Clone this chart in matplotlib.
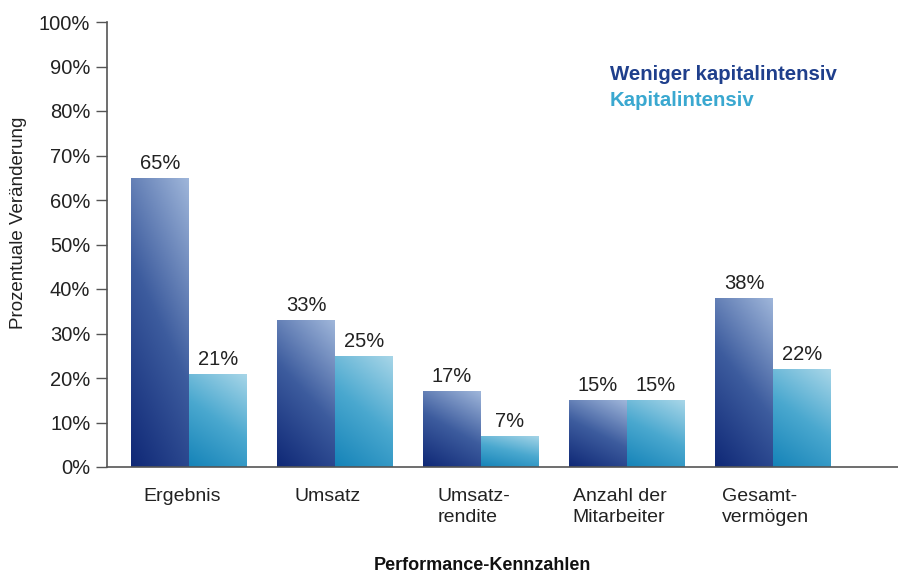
import numpy as np
import matplotlib
matplotlib.use('Agg')
import matplotlib.pyplot as plt
from matplotlib.colors import LinearSegmentedColormap

plt.rcParams['font.family'] = ['Liberation Sans', 'DejaVu Sans']

categories = ['Ergebnis', 'Umsatz', 'Umsatz-\nrendite', 'Anzahl der\nMitarbeiter', 'Gesamt-\nvermögen']
weniger = [65, 33, 17, 15, 38]
kapital = [21, 25, 7, 15, 22]
series_names = ['Weniger kapitalintensiv', 'Kapitalintensiv']

cmap_dark = LinearSegmentedColormap.from_list('dark', ['#0f2876', '#3d5c9e', '#9fb6da'])
cmap_light = LinearSegmentedColormap.from_list('light', ['#1583b8', '#4aa8cf', '#a8d6e8'])

fig = plt.figure(figsize=(8.98, 5.76), dpi=100)
ax = fig.add_axes([107 / 898, 1 - 467 / 576, 1 - 107 / 898, (467 - 22) / 576])

x = np.arange(len(categories))
w = 0.397

# diagonal gradient, dark at bottom-left, light at top-right
u, v = np.meshgrid(np.linspace(0, 1, 60), np.linspace(0, 1, 200))
grad = 0.3 * u + 0.7 * v


def gradient_bars(xs, heights, cmap):
    bars = ax.bar(xs, heights, w, color='none', edgecolor='none')
    for b in bars:
        x0, y0 = b.get_x(), b.get_y()
        im = ax.imshow(grad, cmap=cmap, origin='lower', aspect='auto',
                       extent=[x0, x0 + b.get_width(), y0, y0 + b.get_height()],
                       interpolation='bicubic', zorder=2)
        im.set_clip_path(b)
    return bars


b1 = gradient_bars(x - w / 2, weniger, cmap_dark)
b2 = gradient_bars(x + w / 2, kapital, cmap_light)

for bars, vals in [(b1, weniger), (b2, kapital)]:
    for b, val in zip(bars, vals):
        ax.annotate(f'{val}%', (b.get_x() + b.get_width() / 2, b.get_height()),
                    xytext=(0, 3.5), textcoords='offset points',
                    ha='center', va='bottom', fontsize=14.5, color='#222222')

ax.set_xlim((107 - 189) / 146, (898 - 189) / 146)
ax.set_ylim(0, 100)
ax.set_yticks(range(0, 101, 10))
ax.set_yticklabels([f'{t}%' for t in range(0, 101, 10)], fontsize=14.5, color='#222222')
ax.tick_params(axis='y', direction='out', length=8, width=1, color='#555555', pad=4)
ax.set_xticks(x - 0.05)
ax.set_xticklabels(categories, fontsize=14, color='#222222', linespacing=1.3,
                   multialignment='left')
ax.tick_params(axis='x', length=0, pad=15)

for side in ['top', 'right']:
    ax.spines[side].set_visible(False)
for side in ['left', 'bottom']:
    ax.spines[side].set_color('#555555')
    ax.spines[side].set_linewidth(1.2)

fig.text(19 / 898, 1 - 223 / 576, 'Prozentuale Veränderung', rotation=90,
         ha='center', va='center', fontsize=13.5, color='#222222')
fig.text(482 / 898, 1 - 566 / 576, 'Performance-Kennzahlen', ha='center', va='center',
         fontsize=13, fontweight='bold', color='#111111')
fig.text(610 / 898, 1 - 75 / 576, series_names[0], ha='left', va='center',
         fontsize=14.7, fontweight='bold', color='#1f3f8c')
fig.text(610 / 898, 1 - 100 / 576, series_names[1], ha='left', va='center',
         fontsize=14.7, fontweight='bold', color='#3aa8d0')

fig.savefig('out.png', dpi=100)
